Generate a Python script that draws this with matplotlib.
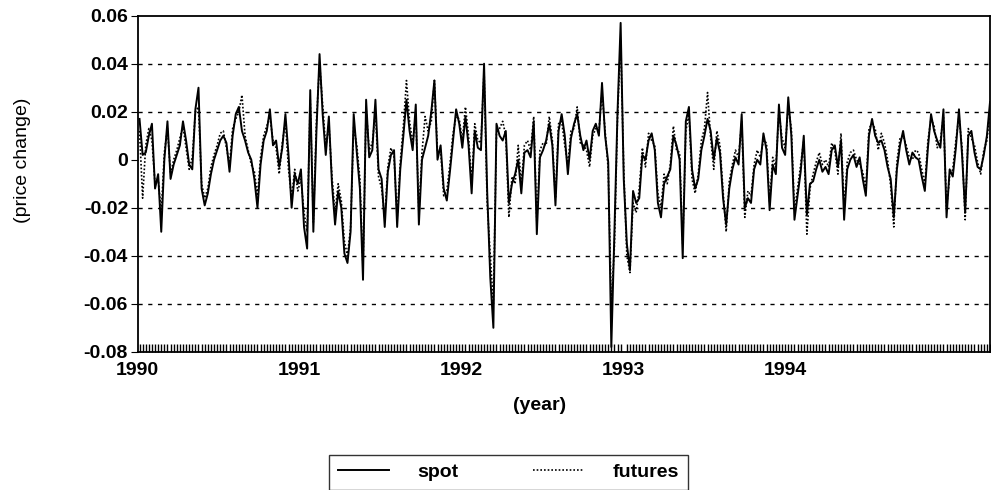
import numpy as np
import pandas as pd
import matplotlib
matplotlib.use('Agg')
import matplotlib.pyplot as plt

plt.rcParams.update({
    'font.family': ['Liberation Sans', 'DejaVu Sans'],
    'font.size': 14,
})

# weekly price changes, Jan 1990 - early 1995
spot = [
    0.017, 0.002, 0.003, 0.010, 0.015, -0.012, -0.006, -0.030, 0.000, 0.016,
    -0.008, -0.002, 0.002, 0.006, 0.016, 0.008, -0.002, -0.004, 0.021, 0.030,
    -0.012, -0.019, -0.014, -0.006, 0.000, 0.004, 0.008, 0.010, 0.007, -0.005,
    0.010, 0.019, 0.022, 0.012, 0.008, 0.003, 0.000, -0.008, -0.020, -0.002,
    0.008, 0.012, 0.021, 0.006, 0.008, -0.003, 0.005, 0.019, 0.002, -0.020,
    -0.006, -0.010, -0.004, -0.028, -0.037, 0.029, -0.030, 0.012, 0.044, 0.019,
    0.002, 0.018, -0.010, -0.027, -0.013, -0.020, -0.039, -0.043, -0.030, 0.019,
    0.003, -0.012, -0.050, 0.025, 0.001, 0.004, 0.025, -0.004, -0.008, -0.028,
    -0.005, 0.002, 0.004, -0.028, -0.004, 0.010, 0.025, 0.012, 0.004, 0.023,
    -0.027, 0.000, 0.005, 0.010, 0.020, 0.033, 0.000, 0.006, -0.012, -0.017,
    -0.005, 0.008, 0.021, 0.015, 0.005, 0.018, 0.006, -0.014, 0.012, 0.005,
    0.004, 0.040, -0.013, -0.049, -0.070, 0.015, 0.010, 0.008, 0.012, -0.018,
    -0.010, -0.006, 0.000, -0.014, 0.003, 0.004, 0.001, 0.016, -0.031, 0.001,
    0.004, 0.008, 0.015, 0.006, -0.019, 0.012, 0.019, 0.010, -0.006, 0.009,
    0.015, 0.019, 0.010, 0.004, 0.008, 0.000, 0.012, 0.015, 0.010, 0.032,
    0.010, -0.001, -0.078, -0.030, 0.020, 0.057, -0.008, -0.035, -0.046, -0.013,
    -0.018, -0.016, 0.002, 0.000, 0.008, 0.011, 0.004, -0.018, -0.024, -0.010,
    -0.007, -0.004, 0.010, 0.006, 0.000, -0.041, 0.016, 0.022, -0.004, -0.012,
    -0.008, 0.004, 0.010, 0.017, 0.012, 0.000, 0.009, 0.003, -0.016, -0.027,
    -0.012, -0.004, 0.001, -0.002, 0.019, -0.020, -0.016, -0.018, -0.004, 0.000,
    -0.002, 0.011, 0.004, -0.021, -0.002, -0.006, 0.023, 0.005, 0.002, 0.026,
    0.010, -0.025, -0.015, -0.005, 0.010, -0.023, -0.010, -0.009, -0.004, 0.000,
    -0.005, -0.003, -0.006, 0.004, 0.006, -0.003, 0.008, -0.025, -0.004, 0.000,
    0.002, -0.003, 0.001, -0.008, -0.015, 0.010, 0.017, 0.010, 0.007, 0.008,
    0.004, -0.003, -0.008, -0.024, -0.004, 0.006, 0.012, 0.004, -0.002, 0.003,
    0.001, 0.000, -0.007, -0.013, 0.005, 0.019, 0.012, 0.008, 0.005, 0.021,
    -0.024, -0.004, -0.007, 0.005, 0.021, 0.002, -0.022, 0.010, 0.012, 0.003,
    -0.003, -0.004, 0.002, 0.010, 0.024,
]

futures = [
    0.012, -0.016, 0.006, 0.013, 0.008, -0.010, -0.008, -0.022, 0.003, 0.013,
    -0.006, 0.000, 0.004, 0.009, 0.014, 0.005, -0.004, 0.001, 0.020, 0.022,
    -0.010, -0.016, -0.012, -0.003, 0.002, 0.006, 0.011, 0.012, 0.005, -0.002,
    0.013, 0.017, 0.020, 0.027, 0.010, 0.004, -0.002, -0.005, -0.015, 0.001,
    0.010, 0.014, 0.018, 0.008, 0.005, -0.006, 0.007, 0.016, -0.004, -0.016,
    -0.004, -0.013, -0.008, -0.022, -0.030, 0.025, -0.026, 0.016, 0.040, 0.023,
    0.005, 0.015, -0.007, -0.022, -0.010, -0.017, -0.034, -0.040, -0.028, 0.014,
    0.006, -0.008, -0.045, 0.021, 0.004, 0.007, 0.020, -0.007, -0.012, -0.024,
    -0.003, 0.005, 0.001, -0.024, -0.001, 0.014, 0.033, 0.016, 0.007, 0.019,
    -0.022, 0.003, 0.018, 0.012, 0.016, 0.033, 0.003, 0.004, -0.015, -0.013,
    -0.002, 0.011, 0.018, 0.017, 0.008, 0.022, 0.010, -0.010, 0.015, 0.008,
    0.007, 0.037, -0.018, -0.040, -0.060, 0.011, 0.013, 0.016, 0.010, -0.024,
    -0.007, -0.010, 0.006, -0.010, 0.006, 0.008, 0.004, 0.018, -0.026, 0.004,
    0.007, 0.006, 0.018, 0.008, -0.016, 0.015, 0.016, 0.006, -0.002, 0.012,
    0.013, 0.022, 0.007, 0.006, 0.004, -0.003, 0.010, 0.013, 0.012, 0.028,
    0.012, -0.004, -0.060, -0.036, 0.018, 0.050, -0.004, -0.040, -0.047, -0.018,
    -0.022, -0.012, 0.005, -0.003, 0.011, 0.008, 0.006, -0.014, -0.020, -0.006,
    -0.010, -0.002, 0.014, 0.004, 0.003, -0.035, 0.012, 0.019, -0.008, -0.014,
    -0.006, 0.008, 0.013, 0.028, 0.009, -0.004, 0.012, 0.006, -0.013, -0.030,
    -0.009, -0.002, 0.004, 0.001, 0.016, -0.024, -0.013, -0.015, -0.002, 0.004,
    0.001, 0.008, 0.007, -0.018, 0.001, -0.003, 0.020, 0.009, 0.005, 0.022,
    0.013, -0.021, -0.012, -0.002, 0.008, -0.031, -0.012, -0.006, -0.001, 0.003,
    -0.002, 0.000, -0.003, 0.007, 0.004, -0.006, 0.011, -0.020, -0.001, 0.003,
    0.004, 0.000, -0.002, -0.005, -0.012, 0.013, 0.015, 0.013, 0.004, 0.011,
    0.007, 0.000, -0.011, -0.028, -0.001, 0.009, 0.010, 0.006, 0.001, 0.000,
    0.004, 0.003, -0.004, -0.010, 0.008, 0.017, 0.014, 0.005, 0.008, 0.018,
    -0.020, -0.007, -0.004, 0.008, 0.018, 0.005, -0.025, 0.013, 0.009, 0.006,
    -0.001, -0.006, 0.004, 0.008, 0.021,
]

dates = pd.date_range('1990-01-05', periods=len(spot), freq='W-FRI')

years = ['1990', '1991', '1992', '1993', '1994']
yticks = [0.06, 0.04, 0.02, 0, -0.02, -0.04, -0.06, -0.08]
ytick_labels = ['0.06', '0.04', '0.02', '0', '-0.02', '-0.04', '-0.06', '-0.08']
grid_levels = [0.04, 0.02, -0.02, -0.04, -0.06]

fig = plt.figure(figsize=(9.91, 4.90), dpi=100)
ax = fig.add_axes([0.139, 0.282, 0.86, 0.686])

for g in grid_levels:
    ax.axhline(g, color='black', lw=1.0, ls=(0, (3, 4)), zorder=1)

ax.plot(dates, futures, color='black', lw=1.2, ls=(0, (1, 1.2)), label='futures', zorder=2)
ax.plot(dates, spot, color='black', lw=1.4, label='spot', zorder=3)

ax.set_xlim(dates[0] - pd.Timedelta(days=3), dates[-1])
ax.set_ylim(-0.08, 0.06)
ax.set_yticks(yticks)
ax.set_yticklabels(ytick_labels, fontsize=14, fontweight='bold')

ax.set_xticks([pd.Timestamp(y + '-01-01') for y in years])
ax.set_xticklabels(years, fontsize=14, fontweight='bold')
ax.set_xticks(dates, minor=True)
ax.tick_params(axis='x', which='major', length=0, pad=7)
ax.tick_params(axis='x', which='minor', direction='in', length=6, width=1.0)
ax.tick_params(axis='y', direction='out', length=5, pad=2)

for s in ax.spines.values():
    s.set_linewidth(1.3)

ax.set_ylabel('(price change)', fontsize=14)
ax.yaxis.set_label_coords(-0.125, 0.57)
ax.set_xlabel('(year)', fontsize=14, fontweight='bold')
ax.xaxis.set_label_coords(0.472, -0.135)

handles, labels = ax.get_legend_handles_labels()
leg = fig.legend(handles[::-1], labels[::-1], loc='center', ncol=2,
                 bbox_to_anchor=(0.513, 0.036), frameon=True, fancybox=False,
                 edgecolor='black', fontsize=14, handlelength=2.6,
                 handletextpad=1.5, columnspacing=3.8, borderpad=0.45,
                 borderaxespad=0)
for t in leg.get_texts():
    t.set_fontweight('bold')
leg.get_frame().set_linewidth(1.0)

plt.savefig('out.png', dpi=100)
